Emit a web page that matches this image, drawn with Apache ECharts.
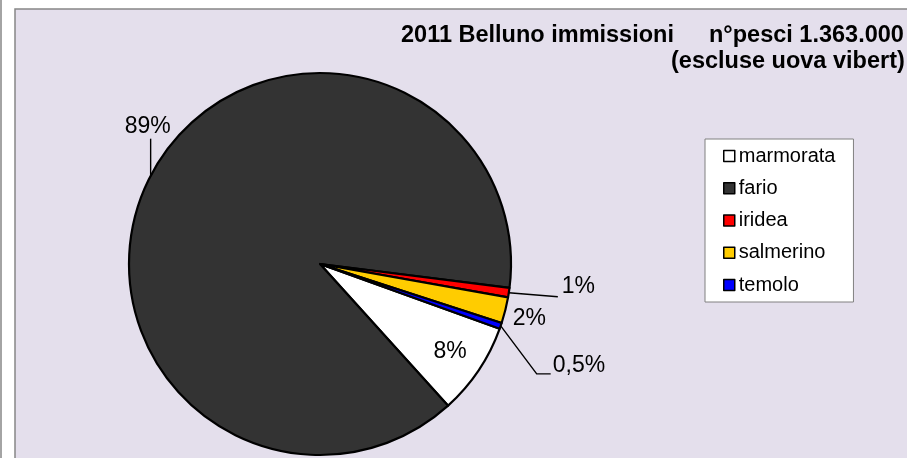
<!DOCTYPE html>
<html><head><meta charset="utf-8">
<script src="https://cdn.jsdelivr.net/npm/echarts@6/dist/echarts.min.js"></script>
<style>html,body{margin:0;padding:0;background:#fff}#c{width:907px;height:458px}</style>
</head><body><div id="c"></div>
<script>
const categories = ['marmorata', 'fario', 'iridea', 'salmerino', 'temolo'];
const values = [7.8, 88.7, 0.8, 2.2, 0.5];
const labelTexts = ['8%', '89%', '1%', '2%', '0,5%'];
const colors = ['#FFFFFF', '#333333', '#FF0000', '#FFCC00', '#0000FF'];
const titleParts = ['2011 Belluno immissioni', 'n\u00b0pesci 1.363.000', '(escluse uova vibert)'];

const FONT = '"Liberation Sans", Arial, sans-serif';
const CX = 320, CY = 264, R = 191;

// label placement relative to the rim anchor that ECharts computes (style/layout only)
const placement = {
  0: { inside: 0.82, align: 'center' },
  1: { line: [[0, -37]], text: [-3, -49], align: 'center' },
  2: { line: [[49, 4]], text: [53, -6], align: 'left' },
  3: { line: [], text: [24, 8], align: 'center' },
  4: { line: [[36, 48], [50, 48]], text: [52, 40], align: 'left' }
};

const titleStyle = { fontFamily: FONT, fontSize: 23.5, fontWeight: 'bold', fill: '#000', align: 'left', verticalAlign: 'middle' };

const chart = echarts.init(document.getElementById('c'));
chart.setOption({
  backgroundColor: '#ffffff',
  animation: false,
  graphic: [
    { type: 'rect', z: -10, silent: true,
      shape: { x: 15, y: 9, width: 900, height: 460 },
      style: { fill: '#E4DFEC', stroke: '#868686', lineWidth: 1.5 } },
    { type: 'line', z: -10, silent: true,
      shape: { x1: 1, y1: 0, x2: 1, y2: 458 },
      style: { stroke: '#868686', lineWidth: 1.5 } },
    { type: 'text', x: 401, y: 36, z: 5, style: Object.assign({ text: titleParts[0] }, titleStyle) },
    { type: 'text', x: 709, y: 36, z: 5, style: Object.assign({ text: titleParts[1] }, titleStyle) },
    { type: 'text', x: 671, y: 62, z: 5, style: Object.assign({ text: titleParts[2] }, titleStyle) }
  ],
  legend: {
    orient: 'vertical',
    left: 705, top: 139,
    backgroundColor: '#ffffff',
    borderColor: '#808080', borderWidth: 1,
    padding: [7, 18, 7, 18],
    itemWidth: 11, itemHeight: 11, itemGap: 12.25,
    icon: 'rect',
    itemStyle: { borderColor: '#000', borderWidth: 1.5 },
    textStyle: { fontFamily: FONT, fontSize: 20, color: '#000', padding: [0, 0, 0, -1] },
    data: categories
  },
  series: [{
    type: 'pie',
    center: [CX, CY],
    radius: R,
    startAngle: -19.8,
    clockwise: true,
    avoidLabelOverlap: false,
    itemStyle: { borderColor: '#000', borderWidth: 2.2 },
    label: {
      show: true, position: 'outside',
      fontFamily: FONT, fontSize: 23, color: '#000',
      formatter: p => labelTexts[p.dataIndex]
    },
    labelLine: { show: true, lineStyle: { color: '#000', width: 1.4 } },
    labelLayout: function (params) {
      const pts = params.labelLinePoints;
      if (!pts) return {};
      const x0 = pts[0][0], y0 = pts[0][1];
      const p = placement[params.dataIndex];
      if (!p) return {};
      if (p.inside) {
        return {
          x: CX + p.inside * (x0 - CX), y: CY + p.inside * (y0 - CY),
          align: 'center', verticalAlign: 'middle',
          labelLinePoints: [[x0, y0], [x0, y0]]
        };
      }
      return {
        x: x0 + p.text[0], y: y0 + p.text[1],
        align: p.align, verticalAlign: 'middle',
        labelLinePoints: [[x0, y0]].concat(p.line.length ? p.line.map(d => [x0 + d[0], y0 + d[1]]) : [[x0, y0]])
      };
    },
    data: categories.map((c, i) => ({
      name: c, value: values[i],
      itemStyle: { color: colors[i] },
      labelLine: (i === 0 || i === 3) ? { lineStyle: { opacity: 0 } } : undefined
    }))
  }]
});
</script>
</body></html>
